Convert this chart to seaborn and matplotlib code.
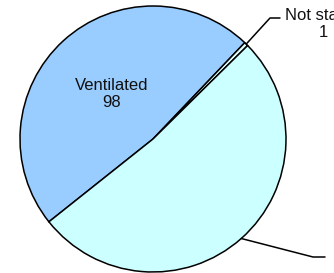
import numpy as np
import seaborn as sns
import matplotlib.pyplot as plt

# pie data
labels = ['Ventilated', 'Not stated', 'Not ventilated']
values = [98, 1, 106]
colors = ['#99CCFF', '#E0FFFF', '#CCFFFF']

sns.set_theme(style='white')
plt.rcParams['font.family'] = ['Liberation Sans', 'DejaVu Sans']

fig = plt.figure(figsize=(3.34, 2.73), dpi=100)
ax = fig.add_axes([0, 0, 1, 1])

cx, cy, r = 153, 134, 133
wedges, _ = ax.pie(values, colors=colors, center=(cx, cy), radius=r,
                   startangle=218.5, counterclock=False, frame=True,
                   wedgeprops=dict(edgecolor='black', linewidth=1.1))

def mid_angle(w):
    return np.deg2rad((w.theta1 + w.theta2) / 2)

# label inside the big slice
a = mid_angle(wedges[0])
ax.text(cx + 0.46 * r * np.cos(a), cy + 0.46 * r * np.sin(a),
        '%s\n%d' % (labels[0], values[0]), ha='center', va='center',
        fontsize=12, color='#111111', linespacing=1.12)

# leader line + label for the thin slice (cut by the right edge, as in the original)
a = mid_angle(wedges[1])
x0, y0 = cx + r * np.cos(a), cy + r * np.sin(a)
ax.plot([x0, 270, 280], [y0, 255, 255], color='black', lw=1.1)
ax.text(285, 249, '%s\n%d' % (labels[1], values[1]), ha='left', va='center',
        fontsize=12, color='#111111', linespacing=1.12, multialignment='center')

# leader line for the last slice (label falls outside the picture)
a = mid_angle(wedges[2])
x0, y0 = cx + r * np.cos(a), cy + r * np.sin(a)
ax.plot([x0, 313, 325], [y0, 16, 16], color='black', lw=1.1)

ax.set_xlim(0, 334)
ax.set_ylim(0, 273)
ax.set_aspect('equal')
ax.axis('off')

fig.savefig('out.png', dpi=100)
